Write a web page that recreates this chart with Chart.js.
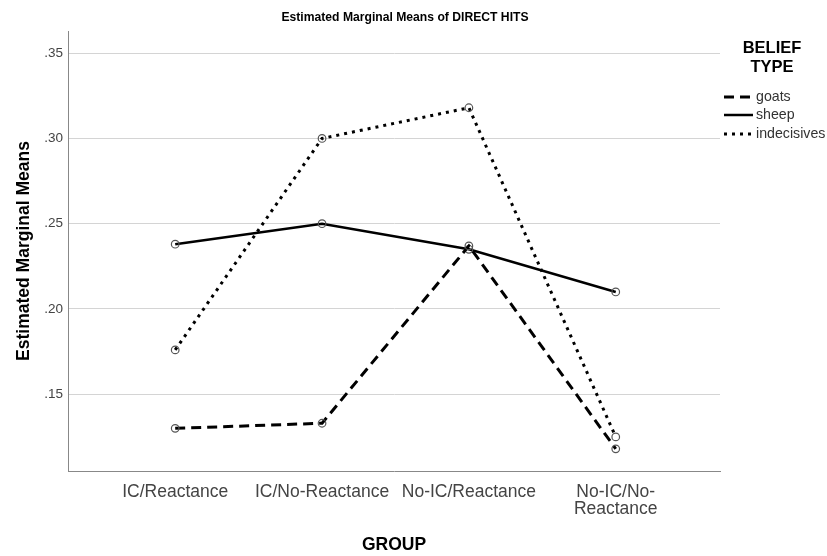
<!DOCTYPE html>
<html>
<head>
<meta charset="utf-8">
<script src="https://cdn.jsdelivr.net/npm/chart.js@4"></script>
<style>
  body { margin: 0; background: #fff; }
  #wrap { width: 827px; height: 556px; }
</style>
</head>
<body>
<div id="wrap"><canvas id="chart"></canvas></div>
<script>
// data
var groups = ['IC/Reactance', 'IC/No-Reactance', 'No-IC/Reactance', ['No-IC/No-', 'Reactance']];
var seriesNames = ['goats', 'sheep', 'indecisives'];
var goats = [0.130, 0.133, 0.237, 0.118];
var sheep = [0.238, 0.250, 0.235, 0.210];
var indecisives = [0.176, 0.300, 0.318, 0.125];
var yTicks = [0.15, 0.20, 0.25, 0.30, 0.35];
var chartTitle = 'Estimated Marginal Means of DIRECT HITS';
var legendTitle = ['BELIEF', 'TYPE'];

var FONT = '"Liberation Sans", Arial, sans-serif';

function pts(vals) {
    return vals.map(function(v, i) { return {x: i, y: v}; });
}

function makeSet(name, vals, dash, width) {
    return {
        label: name,
        data: pts(vals),
        borderColor: '#000',
        borderWidth: width,
        borderDash: dash,
        fill: false,
        tension: 0,
        pointRadius: 3.8,
        pointBorderWidth: 1.2,
        pointBorderColor: '#555',
        pointBackgroundColor: 'rgba(255,255,255,0)'
    };
}

//title and legend drawn by hand, so they sit where the picture has them
var extras = {
    id: 'extras',
    afterDraw: function(chart) {
        var ctx = chart.ctx;
        ctx.save();
        ctx.fillStyle = '#000';
        ctx.textAlign = 'center';
        ctx.textBaseline = 'middle';
        // title is a bit condensed in the picture
        ctx.save();
        ctx.translate(405, 17);
        ctx.scale(0.9, 1);
        ctx.font = 'bold 13.5px ' + FONT;
        ctx.fillText(chartTitle, 0, 0);
        ctx.restore();

        ctx.font = 'bold 16.5px ' + FONT;
        ctx.fillText(legendTitle[0], 772, 48);
        ctx.fillText(legendTitle[1], 772, 67);
        ctx.font = '14.2px ' + FONT;
        ctx.textAlign = 'left';
        var rows = [97, 115, 134];
        chart.data.datasets.forEach(function(ds, i) {
            var y = rows[i];
            ctx.strokeStyle = '#000';
            ctx.lineWidth = ds.borderWidth;
            ctx.setLineDash(ds.borderDash);
            ctx.beginPath();
            ctx.moveTo(724, y);
            ctx.lineTo(753, y);
            ctx.stroke();
            ctx.fillStyle = '#333';
            ctx.fillText(ds.label, 756, y);
        });
        ctx.restore();
    }
};

var ctx = document.getElementById('chart');
var chart = new Chart(ctx, {
    type: 'line',
    data: {
        datasets: [
            makeSet(seriesNames[0], goats, [10, 6], 3),
            makeSet(seriesNames[1], sheep, [], 2.5),
            makeSet(seriesNames[2], indecisives, [3, 5], 3)
        ]
    },
    options: {
        responsive: true,
        maintainAspectRatio: false,
        animation: false,
        layout: { padding: { top: 31, right: 107, bottom: 0, left: 0 } },
        plugins: {
            legend: { display: false },
            tooltip: { enabled: false },
            title: { display: false }
        },
        scales: {
            x: {
                type: 'linear',
                min: -0.73,
                max: 3.71,
                afterBuildTicks: function(scale) {
                    scale.ticks = groups.map(function(g, i) { return {value: i}; });
                },
                afterFit: function(scale) { scale.height = 85; },
                ticks: {
                    color: '#444',
                    font: { family: FONT, size: 17.5, lineHeight: 1.0 },
                    padding: 12,
                    maxRotation: 0,
                    autoSkip: false,
                    callback: function(v) { return groups[v]; }
                },
                grid: { display: false, drawTicks: false },
                border: { display: true, color: '#888', width: 1 },
                title: {
                    display: true,
                    text: 'GROUP',
                    color: '#000',
                    font: { family: FONT, size: 17.5, weight: 'bold' },
                    padding: { top: 4, bottom: 0 }
                }
            },
            y: {
                min: 0.105,
                max: 0.363,
                afterBuildTicks: function(scale) {
                    scale.ticks = yTicks.map(function(v) { return {value: v}; });
                },
                afterFit: function(scale) { scale.width = 68; },
                ticks: {
                    color: '#444',
                    font: { family: FONT, size: 13.5 },
                    padding: 5,
                    callback: function(v) { return v.toFixed(2).replace(/^0/, ''); }
                },
                grid: { color: '#d4d4d4', lineWidth: 1, drawTicks: false },
                border: { display: true, color: '#888', width: 1 },
                title: {
                    display: true,
                    text: 'Estimated Marginal Means',
                    color: '#000',
                    font: { family: FONT, size: 17.5, weight: 'bold' },
                    padding: { top: 14, bottom: 4 }
                }
            }
        }
    },
    plugins: [extras]
});
</script>
</body>
</html>
